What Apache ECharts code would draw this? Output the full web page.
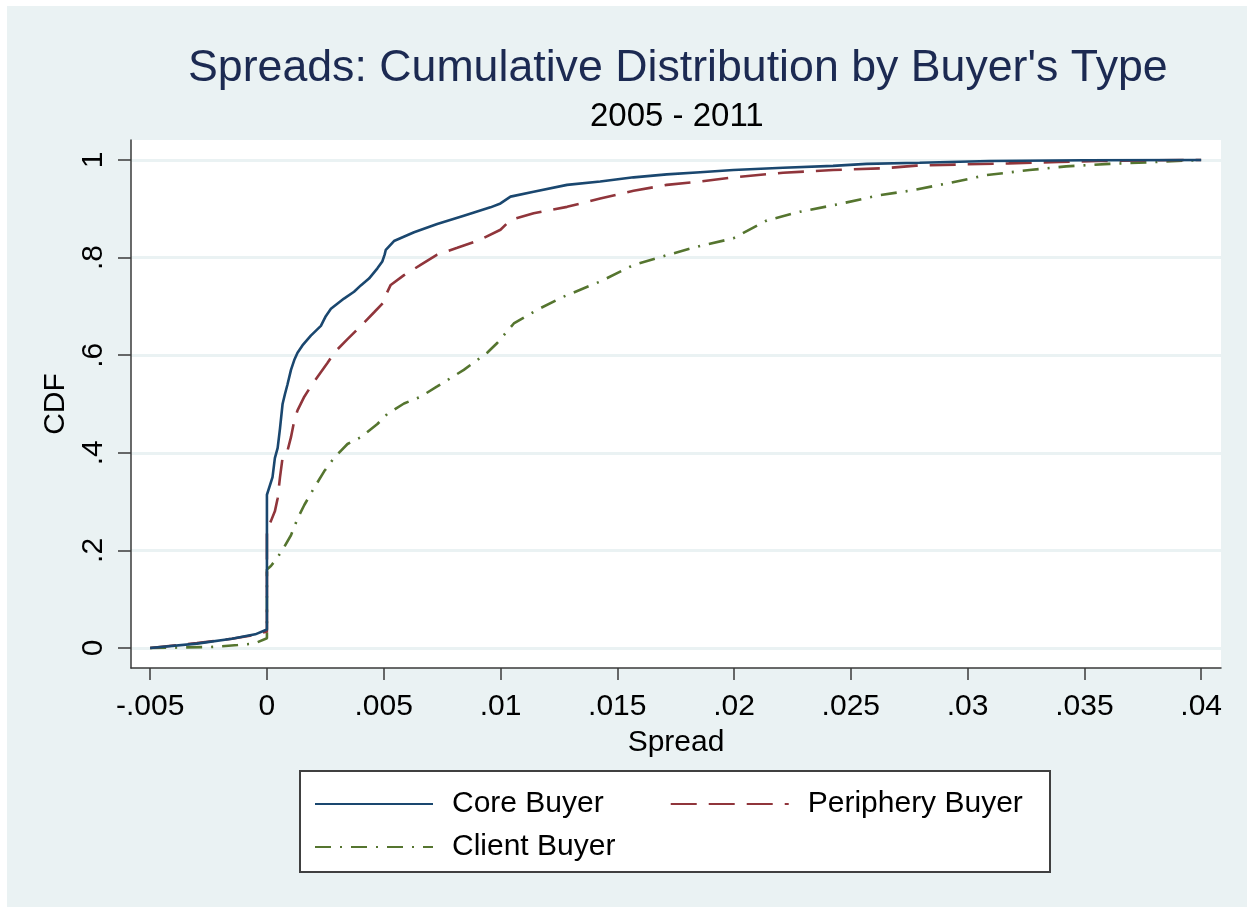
<!DOCTYPE html>
<html>
<head>
<meta charset="utf-8">
<script src="https://cdn.jsdelivr.net/npm/echarts@6/dist/echarts.min.js"></script>
<style>
  html, body { margin: 0; padding: 0; background: #ffffff; }
  #bg { position: absolute; left: 7px; top: 6px; width: 1240px; height: 901px; background: #eaf2f3; }
  #chart { position: absolute; left: 0; top: 0; width: 1253px; height: 913px; }
</style>
</head>
<body>
<div id="bg"></div>
<div id="chart"></div>
<script>
// ---- Data ----
const seriesNames = ['Core Buyer', 'Periphery Buyer', 'Client Buyer'];

const coreX = [-0.005, -0.003, -0.0015, -0.0005, 0, 0, 0.00024, 0.00034, 0.00046, 0.00056, 0.00067, 0.00077, 0.00088, 0.00103, 0.00117, 0.00131, 0.00152, 0.00188, 0.00231, 0.00252, 0.00274, 0.0033, 0.00373, 0.00402, 0.00437, 0.00473, 0.00494, 0.00504, 0.00509, 0.00544, 0.0063, 0.00729, 0.00843, 0.00957, 0.01, 0.01043, 0.01142, 0.01285, 0.01427, 0.0157, 0.01712, 0.01855, 0.01997, 0.0221, 0.02424, 0.02567, 0.02795, 0.03094, 0.035, 0.04];
const coreY = [0, 0.009, 0.019, 0.028, 0.038, 0.314, 0.35, 0.389, 0.41, 0.45, 0.5, 0.52, 0.54, 0.57, 0.59, 0.605, 0.62, 0.64, 0.66, 0.68, 0.695, 0.716, 0.73, 0.743, 0.757, 0.778, 0.792, 0.806, 0.816, 0.834, 0.852, 0.869, 0.886, 0.903, 0.911, 0.925, 0.935, 0.949, 0.956, 0.9645, 0.9706, 0.975, 0.9795, 0.984, 0.988, 0.992, 0.9945, 0.998, 0.9995, 1];

const peripheryX = [-0.005, -0.003, -0.0015, -0.0005, 0, 0, 0.00017, 0.00034, 0.00046, 0.00056, 0.00067, 0.00088, 0.00103, 0.00117, 0.00131, 0.0016, 0.00188, 0.00217, 0.00259, 0.00288, 0.00345, 0.00402, 0.00459, 0.00501, 0.00509, 0.0053, 0.00587, 0.00658, 0.00729, 0.00815, 0.00915, 0.01, 0.01043, 0.01142, 0.01285, 0.01427, 0.0157, 0.01712, 0.01855, 0.01997, 0.0221, 0.02424, 0.02638, 0.0278, 0.0298, 0.03176, 0.0339, 0.0356, 0.0393, 0.04];
const peripheryY = [0, 0.01, 0.019, 0.027, 0.034, 0.245, 0.26, 0.28, 0.307, 0.35, 0.39, 0.404, 0.432, 0.466, 0.487, 0.515, 0.536, 0.556, 0.584, 0.605, 0.633, 0.66, 0.688, 0.709, 0.723, 0.744, 0.764, 0.785, 0.806, 0.82, 0.837, 0.857, 0.877, 0.891, 0.904, 0.921, 0.937, 0.949, 0.956, 0.9645, 0.974, 0.9795, 0.983, 0.9885, 0.991, 0.993, 0.996, 0.998, 1, 1];

const clientX = [-0.005, -0.0024, -0.00125, -0.00054, 0, 0, 0.00017, 0.00046, 0.00074, 0.00103, 0.00131, 0.0016, 0.00202, 0.00245, 0.00288, 0.00345, 0.00402, 0.00473, 0.00516, 0.00587, 0.00658, 0.00729, 0.00843, 0.00943, 0.00986, 0.01057, 0.01157, 0.0127, 0.01427, 0.0157, 0.01712, 0.01855, 0.01997, 0.0214, 0.02282, 0.02453, 0.02624, 0.02752, 0.02923, 0.0308, 0.03265, 0.03422, 0.03607, 0.03806, 0.04];
const clientY = [0, 0.002, 0.006, 0.009, 0.02, 0.161, 0.168, 0.186, 0.207, 0.231, 0.265, 0.293, 0.328, 0.362, 0.39, 0.418, 0.432, 0.459, 0.48, 0.501, 0.515, 0.536, 0.57, 0.605, 0.625, 0.665, 0.693, 0.72, 0.751, 0.785, 0.805, 0.824, 0.8395, 0.876, 0.894, 0.91, 0.928, 0.937, 0.953, 0.969, 0.9795, 0.987, 0.992, 0.996, 1];

const xTicks = [-0.005, 0, 0.005, 0.01, 0.015, 0.02, 0.025, 0.03, 0.035, 0.04];
const yTicks = [0, 0.2, 0.4, 0.6, 0.8, 1];

const titleText = "Spreads: Cumulative Distribution by Buyer's Type";
const subtitleText = '2005 - 2011';
const xName = 'Spread';
const yName = 'CDF';

// ---- Build ----
const FONT = "'Liberation Sans', Arial, Helvetica, sans-serif";
const zip = (xs, ys) => xs.map((x, i) => [x, ys[i]]);
const stataLabel = v => String(v).replace('0.', '.');

const chart = echarts.init(document.getElementById('chart'), null, { renderer: 'canvas' });

const axisColor = '#3a3a3a';
const legendText = { fontFamily: FONT, fontSize: 30, color: '#000', lineHeight: 30, padding: [0, 0, 0, 14] };

const option = {
  backgroundColor: 'transparent',
  animation: false,
  title: [
    {
      text: titleText,
      left: 183,
      top: 41,
      textStyle: { fontFamily: FONT, fontSize: 44.7, fontWeight: 'normal', color: '#1c2a52' }
    },
    {
      text: subtitleText,
      left: 585,
      top: 95,
      textStyle: { fontFamily: FONT, fontSize: 33, fontWeight: 'normal', color: '#000000' }
    }
  ],
  grid: {
    left: 131, right: 32, top: 140, bottom: 245,
    show: true, backgroundColor: '#ffffff', borderWidth: 0
  },
  xAxis: {
    type: 'value',
    min: -0.00582,
    max: 0.04085,
    name: xName,
    nameLocation: 'middle',
    nameGap: 60,
    nameTextStyle: { fontFamily: FONT, fontSize: 30, color: '#000' },
    axisLine: { show: true, onZero: false, lineStyle: { color: axisColor, width: 1.5 } },
    axisTick: { show: true, length: 12, lineStyle: { color: axisColor, width: 1.5 }, customValues: xTicks },
    axisLabel: { fontFamily: FONT, fontSize: 30, color: '#000', margin: 24, customValues: xTicks, formatter: stataLabel },
    splitLine: { show: false }
  },
  yAxis: {
    type: 'value',
    min: -0.041,
    max: 1.041,
    name: yName,
    nameLocation: 'middle',
    nameGap: 58,
    nameTextStyle: { fontFamily: FONT, fontSize: 30, color: '#000' },
    axisLine: { show: true, onZero: false, lineStyle: { color: axisColor, width: 1.5 } },
    axisTick: { show: true, length: 13, lineStyle: { color: axisColor, width: 1.5 }, customValues: yTicks },
    axisLabel: { fontFamily: FONT, fontSize: 30, color: '#000', margin: 22, rotate: 90, customValues: yTicks, formatter: stataLabel },
    splitLine: { show: true, lineStyle: { color: '#eaf2f3', width: 3 } }
  },
  legend: [
    {
      data: [seriesNames[0], seriesNames[1]],
      left: 314, top: 789,
      itemWidth: 118, itemHeight: 20, itemGap: 66,
      padding: 0,
      itemStyle: { opacity: 0 },
      textStyle: legendText
    },
    {
      data: [seriesNames[2]],
      left: 314, top: 832,
      itemWidth: 118, itemHeight: 20,
      padding: 0,
      itemStyle: { opacity: 0 },
      textStyle: legendText
    }
  ],
  graphic: [
    {
      type: 'rect', z: -1, silent: true,
      shape: { x: 300, y: 771, width: 750, height: 101 },
      style: { fill: '#ffffff', stroke: '#404040', lineWidth: 2 }
    }
  ],
  series: [
    {
      name: seriesNames[0], type: 'line', symbol: 'none', z: 4,
      data: zip(coreX, coreY),
      lineStyle: { color: '#1a476f', width: 2.6, type: 'solid' },
      itemStyle: { color: '#1a476f' }
    },
    {
      name: seriesNames[1], type: 'line', symbol: 'none', z: 3,
      data: zip(peripheryX, peripheryY),
      lineStyle: { color: '#90353b', width: 2.6, type: [26, 12] },
      itemStyle: { color: '#90353b' }
    },
    {
      name: seriesNames[2], type: 'line', symbol: 'none', z: 2,
      data: zip(clientX, clientY),
      lineStyle: { color: '#55752f', width: 2.6, type: [16, 9, 2, 9] },
      itemStyle: { color: '#55752f' }
    }
  ]
};

chart.setOption(option);
</script>
</body>
</html>
